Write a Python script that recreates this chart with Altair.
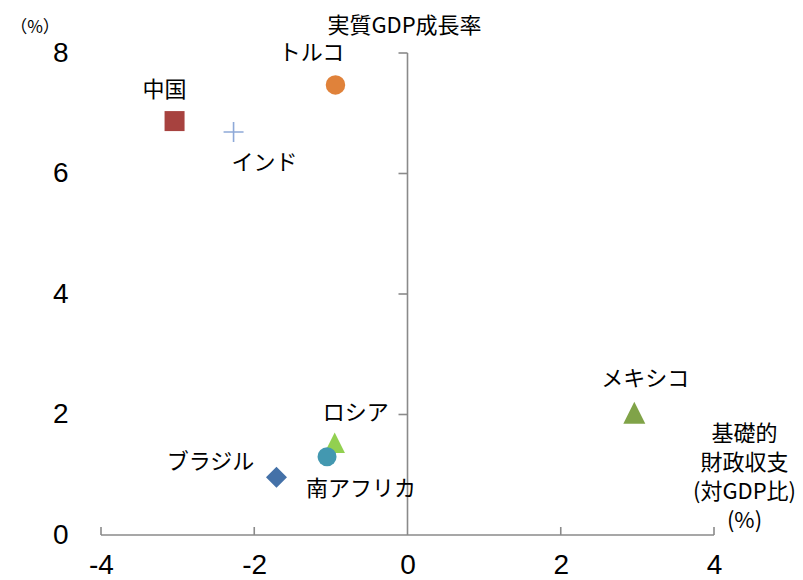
import altair as alt
import pandas as pd

# ---- data ----
NAMES = ["中国", "インド", "トルコ", "メキシコ", "ロシア", "南アフリカ", "ブラジル"]
BALANCE = [-3.04, -2.27, -0.94, 2.96, -0.95, -1.05, -1.71]   # 基礎的財政収支 (対GDP比, %)
GROWTH = [6.87, 6.69, 7.47, 2.03, 1.53, 1.30, 0.96]          # 実質GDP成長率 (%)
X_TICKS = [-4, -2, 0, 2, 4]
Y_TICKS = [0, 2, 4, 6, 8]
TITLE_Y = "実質GDP成長率"
UNIT_Y = "（%）"
TITLE_X = ["基礎的", "財政収支", "(対GDP比)", "(%)"]

# ---- styles ----
PLUS = "M-1,0H1M0,-1V1"
TRI = "M0,-1L1,1L-1,1Z"
COLORS = ["#A7423F", "#8EA9D8", "#E0823A", "#80A348", "#92D050", "#4398B0", "#4471A8"]
SHAPES = ["square", PLUS, "circle", TRI, TRI, "circle", "diamond"]
SIZES = [400, 400, 380, 484, 420, 361, 441]
FILLED = [True, False, True, True, True, True, True]
LABEL_DX = [-10, 31, -24, 11, 21, 34, -66]
LABEL_DY = [-31, 31, -32, -34, -30, 32, -15]

JP = "Noto Sans CJK JP"
NUM = "Liberation Sans"
AXIS_COLOR = "#8A8A8A"

df = pd.DataFrame({"name": NAMES, "x": BALANCE, "y": GROWTH})

xs = alt.Scale(domain=[min(X_TICKS), max(X_TICKS)], nice=False, zero=False)
ys = alt.Scale(domain=[min(Y_TICKS), max(Y_TICKS)], nice=False, zero=False)

x_axis = alt.Axis(
    values=X_TICKS, domain=False, ticks=False, tickSize=0, grid=False,
    labelFont=NUM, labelFontSize=28, labelColor="black", labelPadding=16,
    labelFlush=False, labelOverlap=False,
    labelExpr="'' + datum.value",
    title=TITLE_X, titleAngle=0, titleX=643, titleY=-112, titleAlign="center",
    titleBaseline="top", titleLineHeight=29, titleFont=JP, titleFontSize=22,
    titleFontWeight="normal", titleColor="black",
)
# y axis title is the growth-rate caption, placed above the x=0 axis line
y_axis = alt.Axis(
    values=Y_TICKS, domain=False, ticks=False, tickSize=0, grid=False,
    labelFont=NUM, labelFontSize=28, labelColor="black", labelPadding=33,
    labelFlush=False, labelOverlap=False,
    labelExpr="'' + datum.value",
    title=TITLE_Y, titleAngle=0, titleX=303, titleY=-28, titleAlign="center",
    titleBaseline="middle", titleFont=JP, titleFontSize=22,
    titleFontWeight="normal", titleColor="black",
)

X = alt.X("x:Q", scale=xs, axis=x_axis)
Y = alt.Y("y:Q", scale=ys, axis=y_axis)

# axis lines drawn as rules (x axis at y=0, y axis at x=0)
x_line_df = pd.DataFrame({"x": [min(X_TICKS)], "x2": [max(X_TICKS)], "y": [0]})
y_line_df = pd.DataFrame({"x": [0], "y": [min(Y_TICKS)], "y2": [max(Y_TICKS)]})
x_tick_df = pd.DataFrame({"x": [v for v in X_TICKS if v != 0], "y": 0})
y_tick_df = pd.DataFrame({"x": 0, "y": [v for v in Y_TICKS if v != 0]})

layers = [
    alt.Chart(x_line_df).mark_rule(color=AXIS_COLOR, strokeWidth=1.6).encode(x=X, x2="x2:Q", y=Y),
    alt.Chart(y_line_df).mark_rule(color=AXIS_COLOR, strokeWidth=1.6).encode(x=X, y=Y, y2="y2:Q"),
    alt.Chart(x_tick_df).mark_rule(color=AXIS_COLOR, strokeWidth=1.6, y2Offset=-8).encode(x=X, y=Y, y2="y:Q"),
    alt.Chart(y_tick_df).mark_rule(color=AXIS_COLOR, strokeWidth=1.6, x2Offset=-9).encode(x=X, x2="x:Q", y=Y),
]

for n, c, s, sz, f in zip(NAMES, COLORS, SHAPES, SIZES, FILLED):
    if f:
        m = alt.Chart(df).mark_point(shape=s, size=sz, filled=True, color=c, opacity=1)
    else:
        m = alt.Chart(df).mark_point(shape=s, size=sz, filled=False, color=c, strokeWidth=1.6, opacity=1)
    layers.append(m.encode(x=X, y=Y).transform_filter(alt.datum.name == n))

for n, dx, dy in zip(NAMES, LABEL_DX, LABEL_DY):
    layers.append(
        alt.Chart(df).mark_text(font=JP, fontSize=22, color="black", dx=dx, dy=dy,
                                align="center", baseline="middle")
        .encode(x=X, y=Y, text="name:N")
        .transform_filter(alt.datum.name == n)
    )

chart = (
    alt.layer(*layers)
    .properties(
        width=613, height=482,
        padding={"left": 93, "top": 45, "right": 81, "bottom": 45},
        autosize=alt.AutoSizeParams(type="none"),
        title=alt.TitleParams(UNIT_Y, font=JP, fontSize=17, fontWeight="normal",
                              color="black", anchor="start", frame="group",
                              align="center", baseline="middle", offset=0,
                              dx=-66, dy=31),
        background="white",
    )
    .configure_view(stroke=None)
)

chart.save("out.html", embed_options={"renderer": "svg", "actions": False})
